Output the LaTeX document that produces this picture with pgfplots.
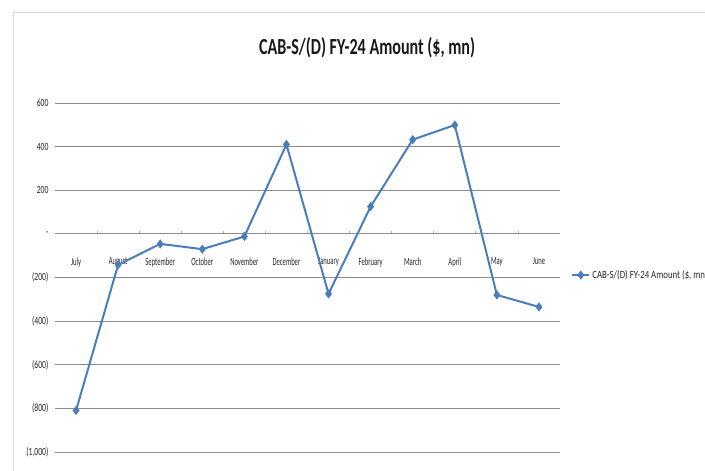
\documentclass[border=0pt]{standalone}
\usepackage{pgfplots}
\pgfplotsset{compat=1.18}
\usepackage{fontspec}
\setmainfont{Carlito}
\newfontfamily\xlabfont[FakeStretch=0.6]{Carlito}
\newfontfamily\ylabfont[FakeStretch=0.7]{Carlito}
\newfontfamily\legfont[FakeStretch=0.8]{Carlito}
\newfontfamily\titlefont[FakeStretch=0.7]{Carlito}
\definecolor{gridc}{RGB}{140,140,140}
\definecolor{lineblue}{RGB}{74,126,187}
\definecolor{framec}{RGB}{217,217,217}
\begin{document}
\begin{tikzpicture}
\useasboundingbox (-55pt,-19pt) rectangle (650pt,452pt);
\clip (-55pt,-19pt) rectangle (650pt,452pt);
\fill[white] (-55pt,-19pt) rectangle (650pt,452pt);
\draw[framec, line width=1pt] (-41pt,-40pt) rectangle (700pt,439pt);
\begin{axis}[
  at={(0pt,0pt)}, anchor=south west,
  scale only axis, width=505pt, height=349pt,
  xmin=-0.5, xmax=11.5, ymin=-1000, ymax=600,
  axis x line*=middle, axis y line*=left,
  y axis line style={draw=none},
  x axis line style={draw=gridc, line width=0.9pt},
  xtick={0,...,11},
  xticklabels={July,August,September,October,November,December,January,February,March,April,May,June},
  major x tick style={draw=none},
  minor xtick={0.5,1.5,...,10.5},
  minor x tick style={draw=gridc!70, line width=0.8pt},
  minor tick length=3pt,
  xtick align=inside,
  xticklabel style={font=\xlabfont\fontsize{11}{12}\selectfont, text=black!85, yshift=-20pt},
  ytick={-1000,-800,...,600},
  yticklabels={{(1,000)},{(800)},{(600)},{(400)},{(200)},{-},{200},{400},{600}},
  yticklabel style={font=\ylabfont\fontsize{11}{12}\selectfont, text=black!85, xshift=-3pt},
  major y tick style={draw=none},
  ymajorgrids, grid style={gridc, line width=0.9pt},
  title={\titlefont\bfseries\fontsize{23}{25}\selectfont CAB-S/(D) FY-24 Amount (\$, mn)},
  title style={at={(axis description cs:0.618,1.14)}, anchor=center, text=black!90},
  legend style={at={(axis description cs:1.022,0.507)}, anchor=west, draw=none, fill=none,
    inner sep=0pt, font=\legfont\fontsize{11}{12}\selectfont, text=black!85},
  legend cell align=left,
]
\addplot[color=lineblue, line width=2pt, mark=diamond*, mark size=3pt,
  mark options={fill=lineblue, draw=lineblue}]
  coordinates {
  (0,-810) (1,-142) (2,-46) (3,-70) (4,-12) (5,410)
  (6,-275) (7,125) (8,432) (9,499) (10,-280) (11,-335)
  };
\addlegendentry{CAB-S/(D) FY-24 Amount (\$, mn)}
\end{axis}
\end{tikzpicture}
\end{document}
